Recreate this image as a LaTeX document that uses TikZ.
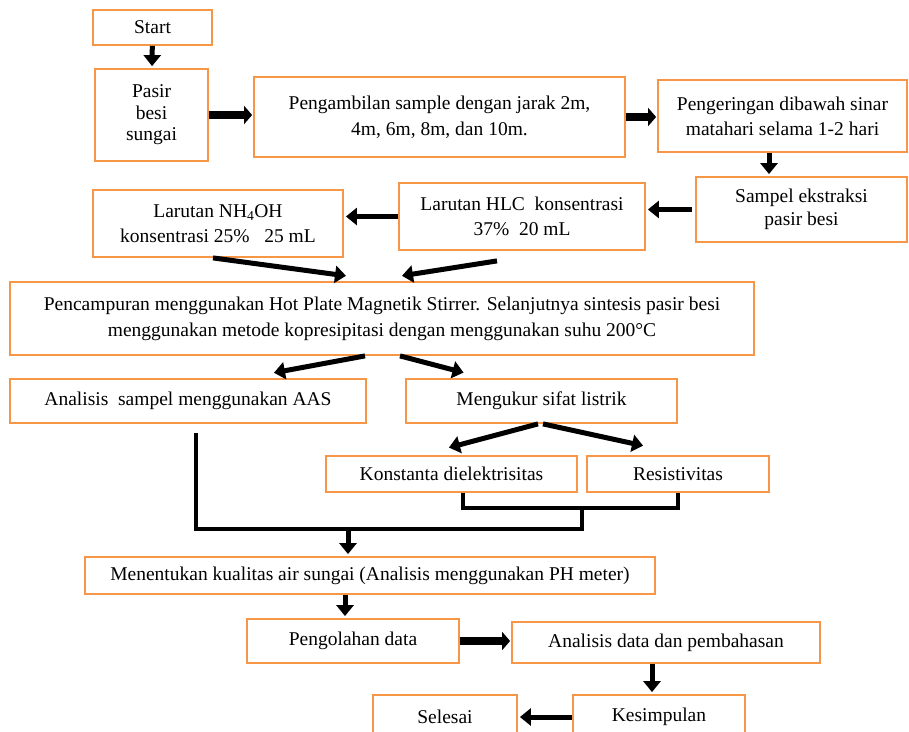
\documentclass[tikz,border=0pt]{standalone}
\usepackage{fontspec}
\setmainfont{Liberation Serif}
\usetikzlibrary{arrows.meta,calc}
\definecolor{boxorange}{RGB}{247,150,70}

\begin{document}
\begin{tikzpicture}[x=1pt,y=-1pt,
    box/.style={draw=boxorange,line width=1.8pt,fill=white,align=center,inner sep=2pt,
      font=\fontsize{19.5}{25}\selectfont},
    arr/.style={line width=5pt,-{Triangle[length=11pt,width=17pt]},shorten >=2pt},
    fat/.style={line width=8pt,-{Triangle[length=8pt,width=18pt]},shorten >=1pt},
    link/.style={line width=4pt}]
  \useasboundingbox (0,0) rectangle (909,731);
  % kotak-kotak
  \node[box,minimum width=119pt,minimum height=35pt] (start) at (152.5,27.5) {Start};
  \node[box,minimum width=113pt,minimum height=92pt,font=\fontsize{19.5}{21.5}\selectfont] (pasir) at (151.5,115) {Pasir\\besi\\sungai};
  \node[box,minimum width=371pt,minimum height=80pt,font=\fontsize{19.5}{26}\selectfont] (ambil) at (439.5,117) {Pengambilan sample dengan jarak 2m,\\4m, 6m, 8m, dan 10m.};
  \node[box,minimum width=249pt,minimum height=72pt] (kering) at (782.5,116) {Pengeringan dibawah sinar\\matahari selama 1-2 hari};
  \node[box,minimum width=211pt,minimum height=65pt,font=\fontsize{19.5}{23}\selectfont] (sampel) at (801.5,209.5) {Sampel ekstraksi\\pasir besi};
  \node[box,minimum width=246pt,minimum height=67pt] (hlc) at (522,216.5) {Larutan HLC\ \ konsentrasi\\37\%\ \ 20 mL};
  \node[box,minimum width=250pt,minimum height=67pt] (nh) at (218,223.5) {Larutan NH\textsubscript{4}OH\\konsentrasi 25\%\ \ \ 25 mL};
  \node[box,minimum width=744pt,minimum height=73pt,font=\fontsize{19.5}{26}\selectfont] (mix) at (382,318.5) {Pencampuran menggunakan Hot Plate Magnetik Stirrer. Selanjutnya sintesis pasir besi\\menggunakan metode kopresipitasi dengan menggunakan suhu 200\textdegree C};
  \node[box,minimum width=356pt,minimum height=44pt] (aas) at (188,401) {Analisis\ \ sampel menggunakan AAS};
  \node[box,minimum width=271pt,minimum height=44pt] (ukur) at (541.5,401) {Mengukur sifat listrik};
  \node[box,minimum width=251pt,minimum height=36pt] (kons) at (451.5,474) {Konstanta dielektrisitas};
  \node[box,minimum width=182pt,minimum height=36pt] (resis) at (678,474) {Resistivitas};
  \node[box,minimum width=570pt,minimum height=37pt] (tentu) at (370,575.5) {Menentukan kualitas air sungai (Analisis menggunakan PH meter)};
  \node[box,minimum width=212pt,minimum height=44pt] (olah) at (353,641) {Pengolahan data};
  \node[box,minimum width=308pt,minimum height=41pt] (bahas) at (666,642.5) {Analisis data dan pembahasan};
  \node[box,minimum width=144pt,minimum height=44pt] (selesai) at (445,717) {Selesai};
  \node[box,minimum width=172pt,minimum height=44pt] (simpul) at (659,717) {Kesimpulan};

  % panah
  \draw[arr] (start) -- (pasir);
  \draw[fat] (pasir.east) -- (pasir.east -| ambil.west);
  \draw[fat] (ambil.east) -- (ambil.east -| kering.west);
  \draw[arr] ([xshift=-13.5pt]kering.south) -- ([xshift=-32.5pt]sampel.north);
  \draw[arr,shorten <=3pt] (sampel.west) -- (sampel.west -| hlc.east);
  \draw[arr] (hlc.west) -- (hlc.west -| nh.east);
  \draw[arr] ([xshift=-5pt]nh.south) -- ([xshift=-34pt,yshift=5pt]mix.north);
  \draw[arr] ([xshift=-25pt,yshift=-10pt]hlc.south) -- ([xshift=18pt,yshift=5pt]mix.north);
  \draw[arr] ([xshift=-17pt]mix.south) -- ([xshift=84pt,yshift=5pt]aas.north);
  \draw[arr] ([xshift=18pt]mix.south) -- ([xshift=-76pt,yshift=5pt]ukur.north);
  \draw[arr] ([xshift=-3.5pt]ukur.south) -- ([xshift=-4.5pt,yshift=7pt]kons.north);
  \draw[arr] ([xshift=1.5pt]ukur.south) -- ([xshift=-33pt,yshift=9pt]resis.north);

  % garis gabungan
  \coordinate (jk) at (582,508);
  \coordinate (jm) at (348,529);
  \draw[link] ([xshift=11.5pt]kons.south) |- (jk) -| (resis.south);
  \draw[link] ([xshift=8pt,yshift=-9pt]aas.south) |- (jm) -| (jk);
  \draw[arr] (jm) -- (jm |- tentu.north);

  \draw[arr] ([xshift=-25pt]tentu.south) -- ([xshift=-8pt]olah.north);
  \draw[fat] (olah.east) -- (olah.east -| bahas.west);
  \draw[arr] ([xshift=-14pt]bahas.south) -- ([xshift=-7pt]simpul.north);
  \draw[arr] (simpul.west) -- (simpul.west -| selesai.east);
\end{tikzpicture}
\end{document}
